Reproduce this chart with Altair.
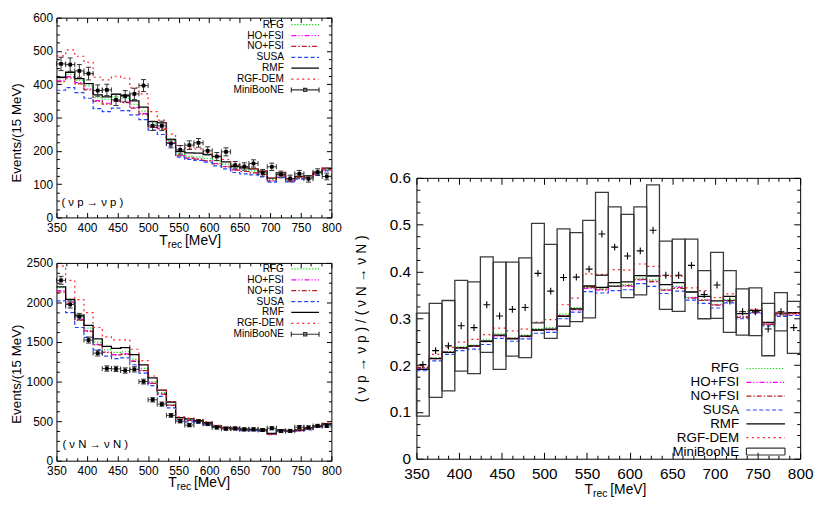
import altair as alt
import pandas as pd

FONT = "Liberation Sans"

EDGES = [350, 365, 380, 395, 410, 425, 440, 455, 470, 485, 500, 515, 530, 545, 560,
         575, 590, 605, 620, 635, 650, 665, 680, 695, 710, 725, 740, 755, 770, 785, 800]

MODELS = ["RFG", "HO+FSI", "NO+FSI", "SUSA", "RMF", "RGF-DEM"]
COLORS = ["#00dd00", "#ff00ff", "#b22222", "#2244ff", "#000000", "#ff2222"]
DASHES = [[1.2, 1.8], [5, 2, 1.2, 2, 1.2, 2], [5, 2, 1.5, 2], [4, 2.5], [1, 0], [2, 3.5]]
DATA_NAME, DATA_COLOR = "MiniBooNE", "#333333"

# ---- nu p -> nu p  (events / 15 MeV)
P_DATA = [461, 459, 440, 432, 381, 383, 353, 364, 371, 396, 275, 275, 222, 203, 217,
          224, 200, 183, 197, 157, 153, 162, 134, 152, 129, 117, 131, 116, 136, 123]
P_ERR = [20, 20, 19, 19, 17, 17, 17, 17, 17, 18, 14, 14, 13, 13, 13,
         13, 12, 12, 12, 11, 11, 11, 10, 11, 10, 10, 10, 10, 10, 10]
P_MODELS = {
    "RFG":     [418, 430, 412, 395, 360, 355, 362, 358, 340, 319, 280, 276, 229, 190, 184,
                181, 177, 170, 160, 150, 145, 140, 134, 114, 130, 114, 120, 122, 132, 144],
    "HO+FSI":  [412, 423, 405, 386, 351, 343, 351, 347, 331, 312, 272, 268, 225, 186, 179,
                176, 171, 162, 153, 143, 138, 134, 129, 110, 125, 110, 117, 120, 130, 142],
    "NO+FSI":  [408, 419, 401, 383, 349, 340, 349, 345, 328, 310, 270, 265, 224, 185, 178,
                175, 170, 161, 152, 142, 138, 134, 129, 110, 125, 110, 118, 120, 131, 143],
    "SUSA":    [382, 390, 375, 358, 327, 318, 328, 321, 308, 294, 262, 249, 214, 181, 174,
                171, 166, 155, 146, 135, 131, 128, 122, 106, 120, 107, 115, 118, 128, 140],
    "RMF":     [421, 436, 417, 402, 368, 362, 370, 367, 350, 331, 288, 284, 234, 198, 194,
                193, 189, 183, 167, 153, 149, 146, 139, 118, 134, 116, 123, 125, 136, 148],
    "RGF-DEM": [485, 503, 484, 466, 421, 413, 424, 418, 389, 371, 318, 292, 250, 216, 208,
                206, 195, 186, 174, 158, 152, 146, 140, 118, 136, 115, 122, 125, 135, 149],
}

# ---- nu N -> nu N  (events / 15 MeV)
N_DATA = [2280, 1975, 1820, 1525, 1360, 1165, 1160, 1140, 1155, 1000, 770, 715, 573, 500, 450,
          498, 465, 420, 405, 408, 396, 396, 388, 410, 375, 377, 424, 420, 440, 440]
N_ERR = [50, 45, 42, 38, 36, 33, 33, 33, 33, 30, 27, 26, 23, 22, 21,
         22, 21, 20, 20, 20, 20, 20, 19, 20, 19, 19, 20, 20, 20, 20]
N_MODELS = {
    "RFG":     [2186, 2021, 1809, 1676, 1499, 1401, 1370, 1377, 1283, 1166, 1001, 860, 714, 530, 518,
                498, 472, 432, 412, 404, 393, 390, 383, 338, 382, 375, 382, 402, 435, 462],
    "HO+FSI":  [2150, 2005, 1786, 1644, 1472, 1374, 1342, 1350, 1260, 1142, 981, 844, 702, 522, 511,
                492, 466, 427, 408, 400, 389, 386, 379, 335, 379, 372, 379, 400, 432, 460],
    "NO+FSI":  [2130, 1990, 1775, 1635, 1465, 1368, 1336, 1344, 1255, 1138, 978, 842, 700, 520, 509,
                490, 465, 426, 407, 399, 388, 385, 378, 334, 378, 371, 378, 399, 431, 459],
    "SUSA":    [2021, 1872, 1684, 1558, 1401, 1323, 1291, 1299, 1213, 1107, 950, 812, 667, 498, 491,
                471, 451, 420, 400, 388, 381, 381, 373, 330, 373, 369, 377, 388, 428, 459],
    "RMF":     [2198, 2040, 1840, 1710, 1540, 1445, 1420, 1430, 1340, 1212, 1048, 891, 742, 545, 530,
                506, 480, 440, 420, 412, 400, 396, 390, 345, 388, 381, 388, 408, 440, 467],
    "RGF-DEM": [2460, 2280, 2037, 1872, 1684, 1566, 1527, 1527, 1409, 1264, 1071, 891, 746, 553, 538,
                518, 491, 447, 420, 408, 400, 396, 388, 334, 388, 381, 388, 408, 443, 475],
}

# ---- ratio (nu p -> nu p) / (nu N -> nu N)
R_MB = [0.201, 0.231, 0.241, 0.284, 0.280, 0.329, 0.305, 0.319, 0.323, 0.396, 0.358, 0.387, 0.388, 0.405, 0.480,
        0.452, 0.433, 0.444, 0.488, 0.392, 0.392, 0.413, 0.351, 0.371, 0.337, 0.314, 0.314, 0.277, 0.314, 0.280]
R_HI = [0.311, 0.332, 0.338, 0.381, 0.378, 0.431, 0.420, 0.420, 0.429, 0.503, 0.458, 0.491, 0.483, 0.509, 0.569,
        0.538, 0.522, 0.538, 0.585, 0.465, 0.469, 0.469, 0.402, 0.441, 0.402, 0.363, 0.365, 0.332, 0.355, 0.336]
R_LO = [0.091, 0.131, 0.145, 0.187, 0.182, 0.227, 0.191, 0.219, 0.216, 0.290, 0.257, 0.283, 0.293, 0.301, 0.392,
        0.368, 0.344, 0.350, 0.390, 0.319, 0.315, 0.357, 0.299, 0.300, 0.270, 0.264, 0.263, 0.220, 0.273, 0.225]
R_MODELS = {
    "RFG":     [0.193, 0.215, 0.229, 0.239, 0.243, 0.254, 0.267, 0.259, 0.264, 0.278, 0.280, 0.309, 0.323, 0.366, 0.363,
                0.370, 0.372, 0.386, 0.382, 0.362, 0.368, 0.345, 0.340, 0.330, 0.340, 0.303, 0.314, 0.286, 0.308, 0.311],
    "HO+FSI":  [0.193, 0.214, 0.228, 0.236, 0.240, 0.250, 0.262, 0.257, 0.261, 0.274, 0.276, 0.305, 0.318, 0.364, 0.360,
                0.368, 0.368, 0.382, 0.378, 0.360, 0.366, 0.344, 0.339, 0.329, 0.338, 0.304, 0.313, 0.287, 0.307, 0.309],
    "NO+FSI":  [0.195, 0.215, 0.228, 0.237, 0.240, 0.251, 0.263, 0.257, 0.262, 0.275, 0.276, 0.306, 0.319, 0.366, 0.362,
                0.369, 0.370, 0.383, 0.379, 0.360, 0.364, 0.343, 0.338, 0.328, 0.338, 0.302, 0.312, 0.287, 0.307, 0.310],
    "SUSA":    [0.188, 0.209, 0.223, 0.231, 0.234, 0.244, 0.257, 0.251, 0.256, 0.268, 0.270, 0.299, 0.313, 0.357, 0.354,
                0.359, 0.361, 0.374, 0.368, 0.353, 0.358, 0.339, 0.332, 0.322, 0.333, 0.299, 0.311, 0.284, 0.304, 0.306],
    "RMF":     [0.191, 0.214, 0.227, 0.237, 0.241, 0.251, 0.264, 0.256, 0.262, 0.275, 0.277, 0.304, 0.320, 0.369, 0.366,
                0.376, 0.378, 0.391, 0.391, 0.372, 0.376, 0.356, 0.347, 0.337, 0.347, 0.310, 0.317, 0.291, 0.311, 0.312],
    "RGF-DEM": [0.198, 0.223, 0.238, 0.249, 0.255, 0.265, 0.279, 0.273, 0.277, 0.292, 0.297, 0.329, 0.343, 0.395, 0.394,
                0.404, 0.403, 0.416, 0.411, 0.390, 0.390, 0.365, 0.359, 0.344, 0.352, 0.315, 0.319, 0.290, 0.312, 0.311],
}

XMAJOR = [350, 400, 450, 500, 550, 600, 650, 700, 750, 800]
P_YMAJOR = [0, 100, 200, 300, 400, 500, 600]
N_YMAJOR = [0, 500, 1000, 1500, 2000, 2500]
R_YMAJOR = [0, 0.1, 0.2, 0.3, 0.4, 0.5, 0.6]

ALL = MODELS + [DATA_NAME]


def minor_ticks(lo, hi, n_sub, majors):
    out = []
    for a, b in zip(majors[:-1], majors[1:]):
        for k in range(1, n_sub):
            out.append(round(a + (b - a) * k / n_sub, 6))
    return out


def E(v):
    return {"expr": repr(float(v))}


# legend symbol paths (unit space scaled by sqrt(size)/2)
L_LINE = "M-3.5,0H3.5"
L_EB = "M-3.5,0H3.5M-3.5,-0.65V0.65M3.5,-0.65V0.65M-0.4,-0.4H0.4V0.4H-0.4Z"
R_LINE = "M-3.9,0H3.9"
R_BOX = "M-3.9,-0.7H3.9V0.7H-3.9Z"
ONE = pd.DataFrame({"k": [0]})
EMPTY = pd.DataFrame({"model": pd.Series([], dtype=str), "T": pd.Series([], dtype=float),
                      "v": pd.Series([], dtype=float)})


def step_frame(models):
    rows = []
    for m in MODELS:
        vals = models[m]
        for i, t in enumerate(EDGES):
            rows.append({"model": m, "T": t, "v": vals[min(i, len(vals) - 1)]})
    return pd.DataFrame(rows)


def txt(s, x, y, fs, align="left"):
    return alt.Chart(ONE).mark_text(
        text=s, font=FONT, fontSize=fs, align=align, baseline="alphabetic", color="black"
    ).encode(x=alt.value(x), y=alt.value(y))


def legend(lx, ly, S, fs, loff, rp, **kw):
    return alt.Legend(orient="none", legendX=lx, legendY=ly, title=None,
                      symbolSize=S, symbolStrokeWidth=1.2, labelAlign="right", labelOffset=E(loff),
                      labelFont=FONT, labelFontSize=fs, labelColor="black", rowPadding=E(rp),
                      padding=0, **kw)


def model_layers(models, ydom, ymaj, yminor, xminor, st, leg, shapes):
    df = step_frame(models)
    xs = alt.Scale(domain=[350, 800], nice=False, zero=False)
    ys = alt.Scale(domain=ydom, nice=False, zero=False)
    common = dict(domain=False, grid=False, tickColor="black", tickWidth=1, title=None)
    tl, tm = st["tl"], st["tm"]
    lab = dict(labelFont=FONT, labelFontSize=st["fs"], labelColor="black",
               labelFlush=False, labelOverlap=False)
    xaxes = [
        alt.Axis(orient="bottom", values=XMAJOR, offset=E(-tl), tickSize=tl,
                 labelPadding=st["lpx"], format="d", **lab, **common),
        alt.Axis(orient="top", values=XMAJOR, offset=E(-tl), tickSize=tl, labels=False, **common),
        alt.Axis(orient="bottom", values=xminor, offset=E(-tm), tickSize=tm, labels=False, **common),
        alt.Axis(orient="top", values=xminor, offset=E(-tm), tickSize=tm, labels=False, **common),
    ]
    ycommon = dict(domain=False, grid=False, tickColor="black", tickWidth=1)
    yaxes = [
        alt.Axis(orient="left", values=ymaj, offset=E(-tl), tickSize=tl, labelPadding=st["lpy"],
                 format=st["yfmt"], title=st["ytitle"], titleFont=FONT, titleFontSize=st["tfs"],
                 titleFontWeight="normal", titleColor="black", titlePadding=st["tp"],
                 titleY=st["titleY"], **lab, **ycommon),
        alt.Axis(orient="right", values=ymaj, offset=E(-tl), tickSize=tl, labels=False, title=None, **ycommon),
        alt.Axis(orient="left", values=yminor, offset=E(-tm), tickSize=tm, labels=False, title=None, **ycommon),
        alt.Axis(orient="right", values=yminor, offset=E(-tm), tickSize=tm, labels=False, title=None, **ycommon),
    ]
    color = alt.Color("model:N", scale=alt.Scale(domain=ALL, range=COLORS + [DATA_COLOR]), legend=leg)
    dash = alt.StrokeDash("model:N", scale=alt.Scale(domain=ALL, range=DASHES + [[1, 0]]), legend=leg)
    layers = []
    for i, m in enumerate(MODELS):
        layers.append(
            alt.Chart(df).transform_filter(alt.datum.model == m)
            .mark_line(interpolate="step-after", strokeWidth=1.3 if m == "RMF" else 1.2)
            .encode(
                x=alt.X("T:Q", scale=xs, axis=xaxes[i] if i < 4 else None),
                y=alt.Y("v:Q", scale=ys, axis=yaxes[i] if i < 4 else None),
                color=color, strokeDash=dash,
            )
        )
    # legend-only layer: gives each key entry its own symbol shape
    layers.append(
        alt.Chart(EMPTY).mark_point(filled=False, opacity=1).encode(
            x=alt.X("T:Q", scale=xs, axis=None), y=alt.Y("v:Q", scale=ys, axis=None),
            shape=alt.Shape("model:N", scale=alt.Scale(domain=ALL, range=shapes), legend=leg),
        )
    )
    return layers, xs, ys


def eb_frame(vals, errs):
    rows = []
    for i in range(len(vals)):
        lo, hi = EDGES[i], EDGES[i + 1]
        rows.append({"xl": lo, "xh": hi, "xc": (lo + hi) / 2,
                     "y": vals[i], "yl": vals[i] - errs[i], "yh": vals[i] + errs[i]})
    return pd.DataFrame(rows)


def data_layers(vals, errs, xs, ys):
    d = alt.Chart(eb_frame(vals, errs))
    ec = DATA_COLOR
    X = lambda f: alt.X(f, scale=xs, axis=None)
    Y = lambda f: alt.Y(f, scale=ys, axis=None)
    return [
        d.mark_rule(strokeWidth=1, color=ec).encode(x=X("xc:Q"), y=Y("yl:Q"), y2="yh:Q"),
        d.mark_rule(strokeWidth=1, color=ec).encode(x=X("xl:Q"), x2="xh:Q", y=Y("y:Q")),
        d.mark_rule(strokeWidth=1, color=ec, xOffset=-2.5, x2Offset=2.5).encode(x=X("xc:Q"), x2="xc:Q", y=Y("yh:Q")),
        d.mark_rule(strokeWidth=1, color=ec, xOffset=-2.5, x2Offset=2.5).encode(x=X("xc:Q"), x2="xc:Q", y=Y("yl:Q")),
        d.mark_rule(strokeWidth=1, color=ec, yOffset=-2.5, y2Offset=2.5).encode(x=X("xl:Q"), y=Y("y:Q"), y2="y:Q"),
        d.mark_rule(strokeWidth=1, color=ec, yOffset=-2.5, y2Offset=2.5).encode(x=X("xh:Q"), y=Y("y:Q"), y2="y:Q"),
        d.mark_square(size=14, color="black", opacity=1).encode(x=X("xc:Q"), y=Y("y:Q")),
    ]


def x_title(x0, y, fs=14, sfs=10.5):
    return [txt("T", x0, y, fs), txt("rec", x0 + 8.6, y + 3, sfs), txt("[MeV]", x0 + 26, y, fs)]


# ---------------- panel geometry
LW, TH, BH = 278, 202, 200
RW, RH = 388, 284

left_st = dict(tl=5, tm=3, fs=12, lpx=5, lpy=4, yfmt="d", ytitle="Events/(15 MeV)", tfs=13.5)
LRP = -3.0
L_SHAPES = [L_LINE] * 6 + [L_EB]

# top-left
st = dict(left_st, tp=9.5, titleY=116)
lay, xs, ys = model_layers(P_MODELS, [0, 600], P_YMAJOR, minor_ticks(0, 600, 4, P_YMAJOR),
                           minor_ticks(350, 800, 3, XMAJOR), st,
                           legend(246.4, 2, 64, 10.2, -26.6, LRP, symbolFillColor="black"), L_SHAPES)
top = alt.layer(
    *lay, *data_layers(P_DATA, P_ERR, xs, ys),
    txt("( ν p → ν p )", 5, TH - 12, 11.5), *x_title(104, TH + 28)
).resolve_axis(x="independent", y="independent").properties(width=LW, height=TH)

# bottom-left
st = dict(left_st, tp=3, titleY=112)
lay, xs, ys = model_layers(N_MODELS, [0, 2500], N_YMAJOR, minor_ticks(0, 2500, 4, N_YMAJOR),
                           minor_ticks(350, 800, 3, XMAJOR), st,
                           legend(246.4, 1, 64, 10.2, -26.6, LRP, symbolFillColor="black"), L_SHAPES)
bottom = alt.layer(
    *lay, *data_layers(N_DATA, N_ERR, xs, ys),
    txt("( ν N → ν N )", 6, BH - 13, 11.5), *x_title(113, BH + 27)
).resolve_axis(x="independent", y="independent").properties(width=LW, height=BH)

# right (ratio)
RRP = -1.8
st = dict(tl=6.5, tm=3.5, fs=15.5, lpx=8, lpy=6, yfmt="~g",
          ytitle="( ν p → ν p ) / ( ν N → ν N )", tfs=14, tp=21, titleY=RH / 2)
lay, xs, ys = model_layers(R_MODELS, [0, 0.6], R_YMAJOR, minor_ticks(0, 0.6, 4, R_YMAJOR),
                           minor_ticks(350, 800, 4, XMAJOR), st,
                           legend(346.4, 186, 100, 13.5, -33.6, RRP, symbolFillColor="transparent"),
                           [R_LINE] * 6 + [R_BOX])
rdf = pd.DataFrame({
    "xl": EDGES[:-1], "xh": EDGES[1:],
    "xc": [(a + b) / 2 for a, b in zip(EDGES[:-1], EDGES[1:])],
    "v": R_MB, "lo": R_LO, "hi": R_HI,
})
rc = alt.Chart(rdf)
boxes = rc.mark_rect(filled=False, strokeWidth=1.3, stroke="#3a3a3a").encode(
    x=alt.X("xl:Q", scale=xs, axis=None), x2="xh:Q",
    y=alt.Y("lo:Q", scale=ys, axis=None), y2="hi:Q",
)
plus = rc.mark_point(shape="M-1,0H1M0,-1V1", size=49, filled=False, strokeWidth=1.1,
                     color="black", opacity=1).encode(
    x=alt.X("xc:Q", scale=xs, axis=None), y=alt.Y("v:Q", scale=ys, axis=None))
right = alt.layer(
    *lay, boxes, plus, *x_title(170, RH + 36)
).resolve_axis(x="independent", y="independent").properties(width=RW, height=RH)

spacer = alt.Chart(ONE).mark_point(opacity=0).encode(
    x=alt.value(0), y=alt.value(0)
).properties(width=RW, height=10, view=alt.ViewBackground(stroke="transparent"))

IND = dict(color="independent", strokeDash="independent", shape="independent")

left_col = alt.vconcat(top, bottom, spacing=46, bounds="flush") \
    .resolve_scale(**IND).resolve_legend(**IND)
right_col = alt.vconcat(spacer, right, spacing=152, bounds="flush") \
    .resolve_scale(**IND).resolve_legend(**IND)

chart = alt.hconcat(left_col, right_col, spacing=LW + 86, bounds="flush") \
    .resolve_scale(**IND).resolve_legend(**IND) \
    .properties(padding=0, background="white") \
    .configure(font=FONT) \
    .configure_view(stroke="black", strokeWidth=1)

chart.save("out.html", embed_options={"renderer": "svg", "actions": False})
